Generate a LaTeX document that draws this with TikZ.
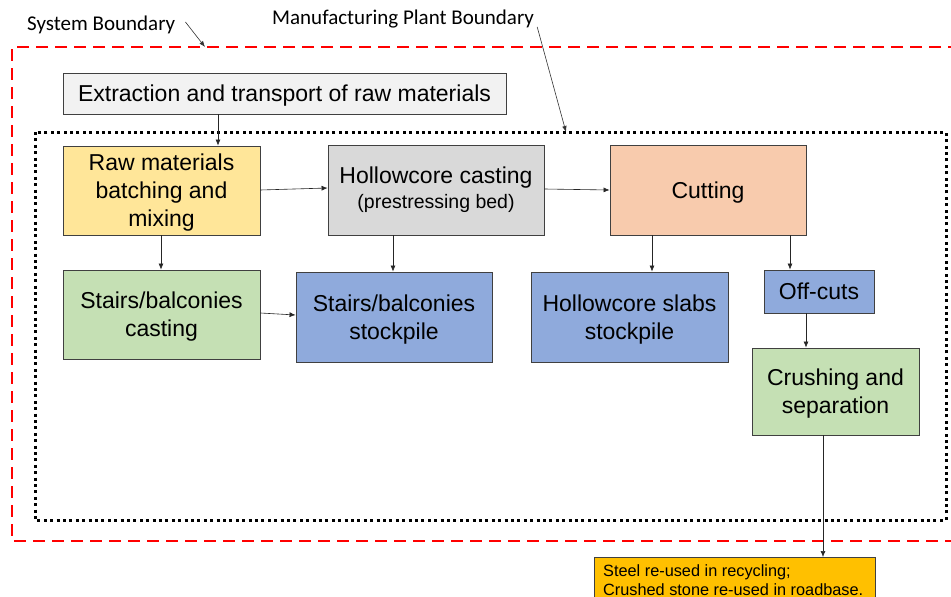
\documentclass[tikz,border=0pt]{standalone}
\usepackage{fontspec}
\setmainfont{Liberation Sans}
\newfontfamily\labelfont{Carlito}
\usetikzlibrary{arrows.meta}
\definecolor{grayfill}{HTML}{F2F2F2}
\definecolor{yellowfill}{HTML}{FFE699}
\definecolor{midgray}{HTML}{D9D9D9}
\definecolor{peach}{HTML}{F8CBAD}
\definecolor{greenfill}{HTML}{C5E0B4}
\definecolor{bluefill}{HTML}{8FAADC}
\definecolor{amber}{HTML}{FFC000}
\definecolor{edge}{HTML}{404040}
\begin{document}
\begin{tikzpicture}[x=1pt,y=-1pt,
  procbox/.style={draw=edge, line width=0.9pt, align=center, inner sep=0pt,
    text depth=0pt, font=\fontsize{23}{28}\selectfont},
  flow/.style={draw=black!85, line width=0.6pt, -{Latex[length=6pt,width=5pt]}},
  pointer/.style={draw=black!80, line width=0.6pt, -{Latex[length=6pt,width=4.5pt]}},
  tag/.style={font=\labelfont\fontsize{21}{24}\selectfont, inner sep=0pt, anchor=west}]
\useasboundingbox (0,0) rectangle (951,597);
\fill[white] (0,0) rectangle (951,597);

% system boundary and plant boundary
\draw[red, line width=2.6pt, dash pattern=on 12pt off 7pt] (960,47) -- (12,47) -- (12,541) -- (960,541);
\draw[black, line width=3pt, dash pattern=on 3pt off 3.4pt] (35,132) rectangle (946,520);

% process boxes
\node[procbox, fill=grayfill, minimum width=443pt, minimum height=41pt] (extract) at (284.5,93.5) {Extraction and transport of raw materials};
\node[procbox, fill=yellowfill, minimum width=197pt, minimum height=89pt] (raw) at (161.5,190.5) {Raw materials\\batching and\\mixing};
\node[procbox, fill=midgray, minimum width=216pt, minimum height=90pt, text depth=] (hollow) at (436,190) {Hollowcore casting\\[-3pt]{\fontsize{19.5}{22}\selectfont (prestressing bed)}};
\node[procbox, fill=peach, minimum width=196pt, minimum height=90pt] (cut) at (708,190) {Cutting};
\node[procbox, fill=greenfill, minimum width=197pt, minimum height=89pt] (stairs) at (161.5,314.5) {Stairs/balconies\\casting};
\node[procbox, fill=bluefill, minimum width=196pt, minimum height=90pt] (stairpile) at (394,317) {Stairs/balconies\\stockpile};
\node[procbox, fill=bluefill, minimum width=197pt, minimum height=90pt] (slabpile) at (629.5,317) {Hollowcore slabs\\stockpile};
\node[procbox, fill=bluefill, minimum width=110pt, minimum height=43pt] (offcut) at (819,291.5) {Off-cuts};
\node[procbox, fill=greenfill, minimum width=167pt, minimum height=87pt] (crush) at (835.5,391.5) {Crushing and\\separation};
\node[draw=edge, line width=0.9pt, fill=amber, minimum width=281pt, minimum height=60pt, anchor=north west, inner sep=0pt] (reuse) at (594,557) {};
\node[anchor=north west, align=left, inner sep=0pt, font=\fontsize{16.3}{19}\selectfont] (reusetext) at (603,564) {Steel re-used in recycling;\\Crushed stone re-used in roadbase.};

% flows
\draw[flow] (extract.south -| 218,0) -- (raw.north -| 218,0);
\draw[flow] (raw.east |- 0,190) -- (hollow.west |- 0,188);
\draw[flow] (hollow.east |- 0,189) -- (cut.west |- 0,190);
\draw[flow] (raw.south -| 161,0) -- (stairs.north -| 161,0);
\draw[flow] (hollow.south -| 393,0) -- (stairpile.north -| 393,0);
\draw[flow] (stairs.east |- 0,313) -- (stairpile.west |- 0,315);
\draw[flow] (cut.south -| 652,0) -- (slabpile.north -| 652,0);
\draw[flow] (cut.south -| 790,0) -- (offcut.north -| 790,0);
\draw[flow] (offcut.south -| 806,0) -- (crush.north -| 806,0);
\draw[flow] (crush.south -| 823,0) -- (reuse.north -| 823,0);

% boundary labels
\node[tag] (syslabel) at (27,25) {System Boundary};
\node[tag] (plantlabel) at (272,19) {Manufacturing Plant Boundary};
\coordinate (sysmark) at (205,47);
\coordinate (plantmark) at (566,132);
\draw[pointer] (syslabel.east) ++(10,-3) -- (sysmark);
\draw[pointer] (plantlabel.east) ++(3,8) -- (plantmark);
\end{tikzpicture}
\end{document}
